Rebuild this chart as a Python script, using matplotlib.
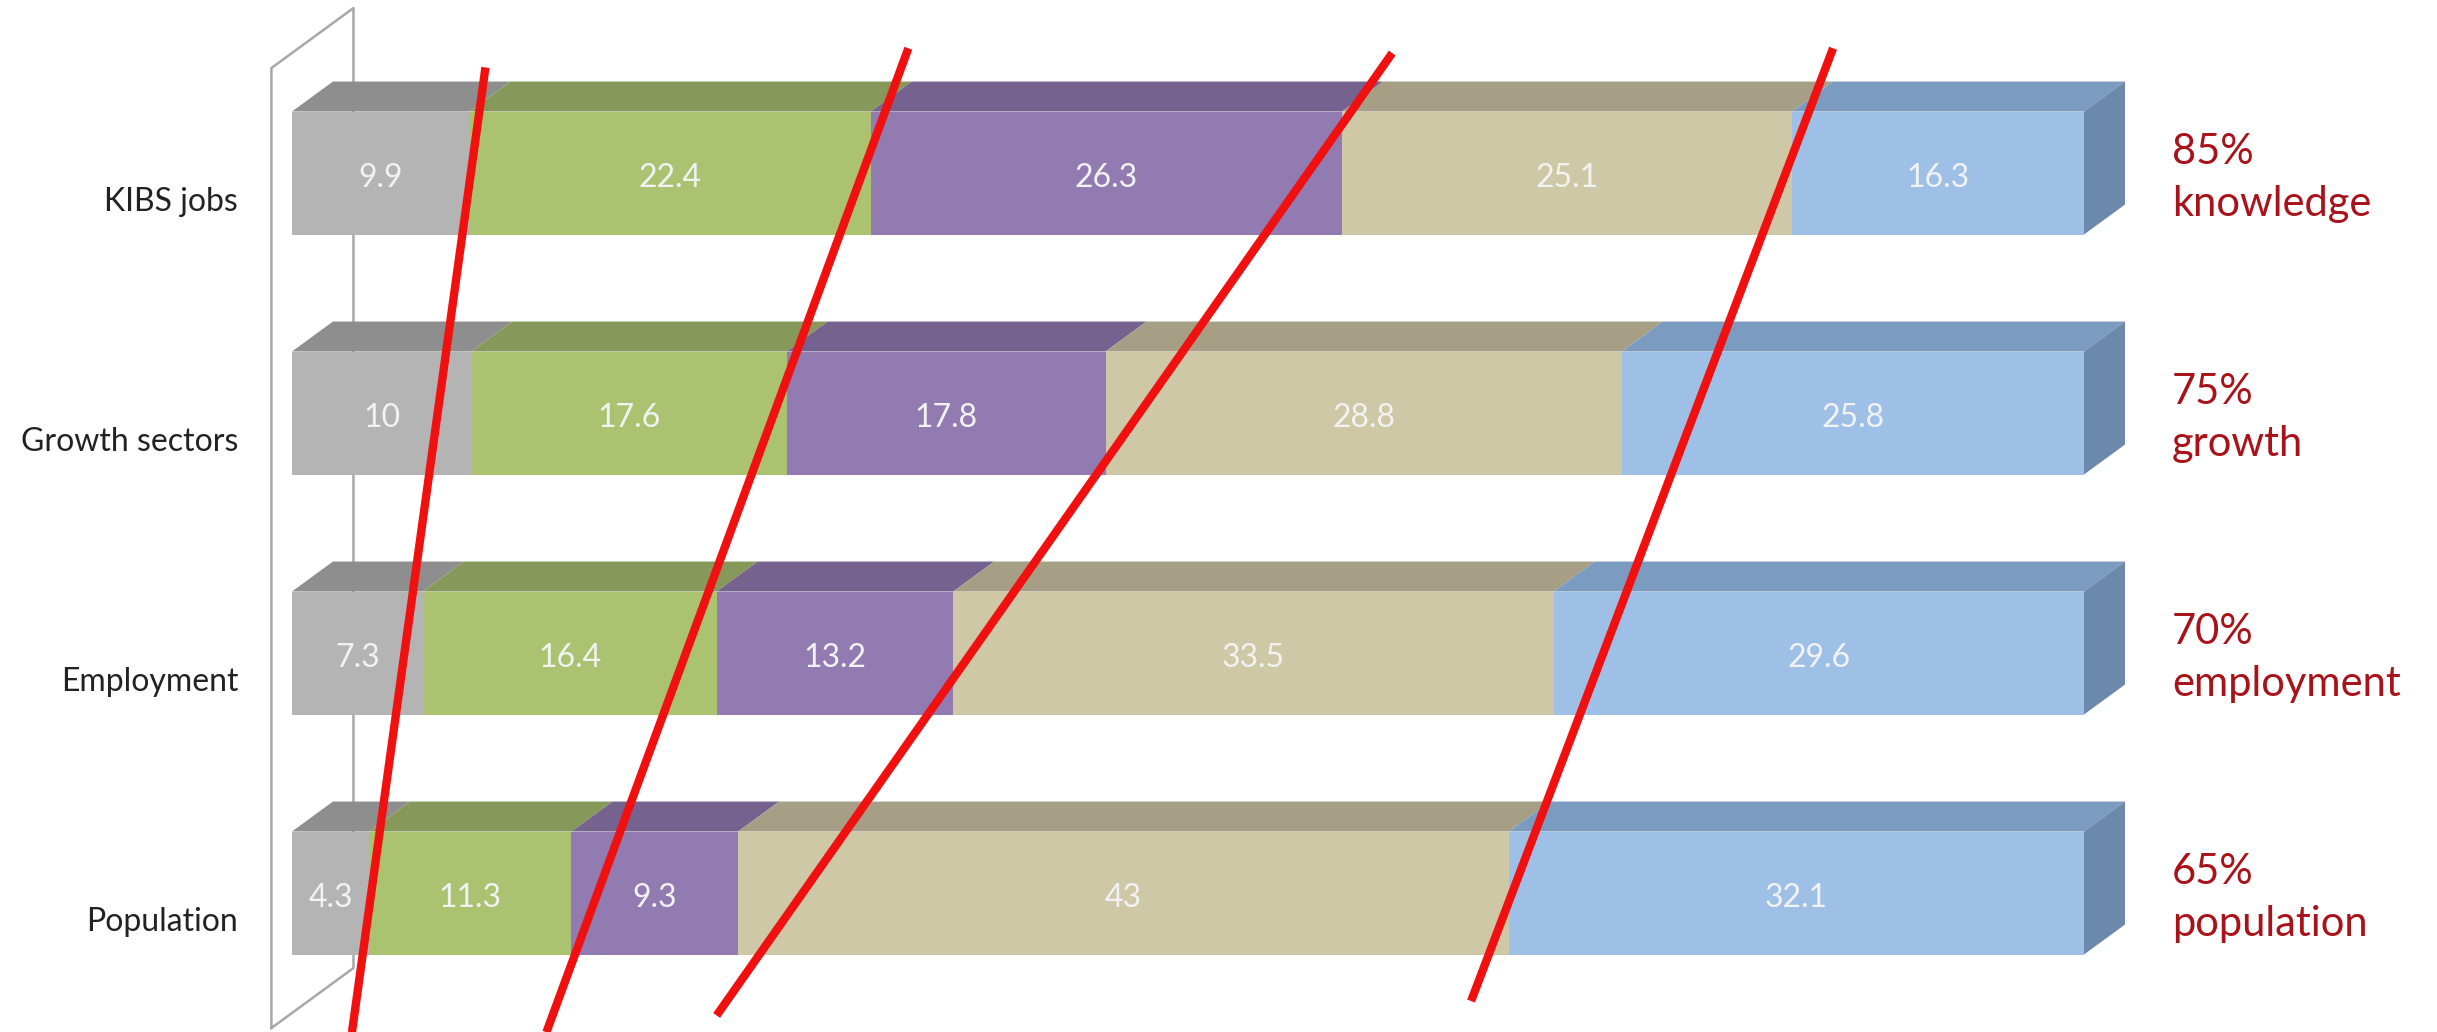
import matplotlib
matplotlib.use("Agg")
import matplotlib.pyplot as plt
from matplotlib.patches import Polygon
import numpy as np

plt.rcParams['font.family'] = ['Lato', 'DejaVu Sans']

# Data (bottom to top)
categories = ['Population', 'Employment', 'Growth sectors', 'KIBS jobs']
gray_vals = [4.3, 7.3, 10, 9.9]
green_vals = [11.3, 16.4, 17.6, 22.4]
purple_vals = [9.3, 13.2, 17.8, 26.3]
tan_vals = [43, 33.5, 28.8, 25.1]
blue_vals = [32.1, 29.6, 25.8, 16.3]
value_text = [['4.3', '11.3', '9.3', '43', '32.1'],
              ['7.3', '16.4', '13.2', '33.5', '29.6'],
              ['10', '17.6', '17.8', '28.8', '25.8'],
              ['9.9', '22.4', '26.3', '25.1', '16.3']]
right_notes = ['65%\npopulation', '70%\nemployment', '75%\ngrowth', '85%\nknowledge']

# red strokes drawn over the chart (x in %, y in category units)
red_x = [[10.8, 3.35], [34.4, 14.2], [61.4, 23.7], [86.0, 65.8]]
red_y = [[3.44, -0.58], [3.52, -0.58], [3.50, -0.51], [3.52, -0.45]]

front_colors = ['#b4b4b4', '#abc271', '#917bb1', '#cfc8a7', '#9ec0e7']
top_colors = ['#8e8e8e', '#87995a', '#75628f', '#a69f86', '#7c9bc0']
side_color = '#6c88aa'

series = [gray_vals, green_vals, purple_vals, tan_vals, blue_vals]

fig = plt.figure(figsize=(24.37, 10.32), dpi=100)
ax = fig.add_axes([0, 0, 1, 1])
ax.set_xlim(-16.29, 119.7)
ax.set_ylim(-0.579, 3.721)
ax.axis('off')

bar_h = 0.5125
dx, dy = 2.29, 0.125
y = np.arange(len(categories))

# side wall behind the bars
wx0, wy0 = -dx / 2, -0.5 - dy / 2
wx1, wy1 = wx0 + 2 * dx, wy0 + 2 * dy
wall_x = [wx0, wx0, wx1, wx1, wx0]
wall_y = [wy0, wy0 + 4, wy1 + 4, wy1, wy0]
ax.plot(wall_x, wall_y, color='#a8a8a8', lw=1.8, zorder=1)

left = np.zeros(len(categories))
for k, vals in enumerate(series):
    vals = np.array(vals, dtype=float)
    ax.barh(y, vals, left=left, height=bar_h, color=front_colors[k], zorder=3)
    for i in range(len(categories)):
        x0, x1 = left[i], left[i] + vals[i]
        yt = y[i] + bar_h / 2
        top = Polygon([(x0, yt), (x1, yt), (x1 + dx, yt + dy), (x0 + dx, yt + dy)],
                      closed=True, facecolor=top_colors[k], edgecolor='none', zorder=2)
        ax.add_patch(top)
        ax.text((x0 + x1) / 2, y[i] - 0.02, value_text[i][k], ha='center', va='center',
                color='#f2f2f2', fontsize=23, zorder=4)
    left = left + vals

# right side of the bars
for i in range(len(categories)):
    xe = left[i]
    yb, yt = y[i] - bar_h / 2, y[i] + bar_h / 2
    side = Polygon([(xe, yb), (xe, yt), (xe + dx, yt + dy), (xe + dx, yb + dy)],
                   closed=True, facecolor=side_color, edgecolor='none', zorder=2)
    ax.add_patch(side)

for i, name in enumerate(categories):
    ax.text(-3.0, y[i] - 0.12, name, ha='right', va='center', fontsize=23, color='#222222')
    ax.text(104.9, y[i] - 0.02, right_notes[i], ha='left', va='center', fontsize=30,
            color='#aa121a', linespacing=1.45)

for xs, ys in zip(red_x, red_y):
    ax.plot(xs, ys, color='#f01010', lw=6, solid_capstyle='butt', zorder=5)

fig.savefig('out.png', dpi=100)
